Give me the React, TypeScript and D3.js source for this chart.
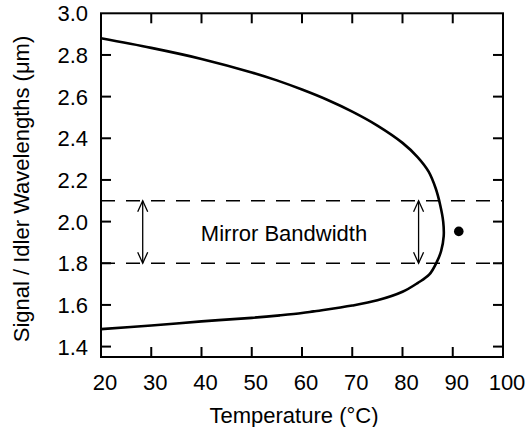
import React from "react";
import * as d3 from "d3";

const curveTemp = [20, 30, 40, 50, 55, 60, 65, 70, 75, 80, 83, 85.2, 86.6, 87.5, 88.1, 88.2, 87.7, 86.9, 85.3, 83, 80, 75, 70, 62.3, 60, 55.6, 50, 40, 30, 20];
const curveWave = [2.88, 2.834, 2.781, 2.716, 2.678, 2.634, 2.585, 2.528, 2.461, 2.378, 2.31, 2.24, 2.16, 2.08, 2.0, 1.93, 1.86, 1.81, 1.745, 1.705, 1.663, 1.622, 1.597, 1.569, 1.561, 1.55, 1.538, 1.521, 1.501, 1.484];

const bandEdges = [2.1, 1.8];
const arrowTemps = [28.3, 83.2];
const pointTemp = [91.2];
const pointWave = [1.953];

const xTicks = [20, 30, 40, 50, 60, 70, 80, 90, 100];
const yTicks = [1.4, 1.6, 1.8, 2.0, 2.2, 2.4, 2.6, 2.8, 3.0];

const W = 526, H = 427;
const FONT = "'Liberation Sans', Arial, Helvetica, sans-serif";

export default function App() {
  const x = d3.scaleLinear().domain([20, 100]).range([101, 503]);
  const y = d3.scaleLinear().domain([1.35, 3.0]).range([357, 13.3]);
  const [x0, x1] = x.range();
  const [y0, y1] = y.range();
  const tickLen = 10;

  const pts: [number, number][] = curveTemp.map((t, i) => [t, curveWave[i]]);
  const line = d3
    .line<[number, number]>()
    .x((d) => x(d[0]))
    .y((d) => y(d[1]))
    .curve(d3.curveCatmullRom.alpha(0.5));

  const arrowHead = (cx: number, cy: number, dir: number) =>
    `M${cx - 5},${cy + dir * 11} L${cx},${cy} L${cx + 5},${cy + dir * 11}`;

  return (
    <svg width={W} height={H} style={{ position: "absolute", left: 0, top: 0, background: "#fff" }} fontFamily={FONT}>
      {bandEdges.map((b) => (
        <line key={b} x1={x0} x2={x1} y1={y(b)} y2={y(b)} stroke="#000" strokeWidth={1.5} strokeDasharray="14 11" />
      ))}
      {arrowTemps.map((t) => {
        const cx = x(t);
        const ya = y(bandEdges[0]);
        const yb = y(bandEdges[1]);
        return (
          <g key={t} stroke="#000" strokeWidth={1.3} fill="none">
            <line x1={cx} x2={cx} y1={ya} y2={yb} />
            <path d={arrowHead(cx, ya, 1)} />
            <path d={arrowHead(cx, yb, -1)} />
          </g>
        );
      })}
      <path d={line(pts) || ""} fill="none" stroke="#000" strokeWidth={2.6} strokeLinejoin="round" />
      {pointTemp.map((t, i) => (
        <circle key={i} cx={x(t)} cy={y(pointWave[i])} r={4.8} fill="#000" />
      ))}
      <text x={284} y={241} fontSize={22} textAnchor="middle" fill="#000">Mirror Bandwidth</text>

      <rect x={x0} y={y1} width={x1 - x0} height={y0 - y1} fill="none" stroke="#000" strokeWidth={2} />
      {xTicks.filter((t) => t > 20 && t < 100).map((t) => (
        <g key={t} stroke="#000" strokeWidth={2}>
          <line x1={x(t)} x2={x(t)} y1={y0} y2={y0 - tickLen} />
          <line x1={x(t)} x2={x(t)} y1={y1} y2={y1 + tickLen} />
        </g>
      ))}
      {yTicks.filter((t) => t < 3.0).map((t) => (
        <g key={t} stroke="#000" strokeWidth={2}>
          <line x1={x0} x2={x0 + tickLen} y1={y(t)} y2={y(t)} />
          <line x1={x1} x2={x1 - tickLen} y1={y(t)} y2={y(t)} />
        </g>
      ))}
      {xTicks.map((t) => (
        <text key={t} x={x(t) + 4} y={390} fontSize={22} textAnchor="middle" fill="#000">{t}</text>
      ))}
      {yTicks.map((t) => (
        <text key={t} x={88} y={y(t) + 8} fontSize={22} textAnchor="end" fill="#000">{t.toFixed(1)}</text>
      ))}
      <text x={294} y={423} fontSize={22} textAnchor="middle" fill="#000">Temperature (°C)</text>
      <text transform={`translate(29,189) rotate(-90)`} fontSize={22} textAnchor="middle" fill="#000">Signal / Idler Wavelengths (μm)</text>
    </svg>
  );
}
